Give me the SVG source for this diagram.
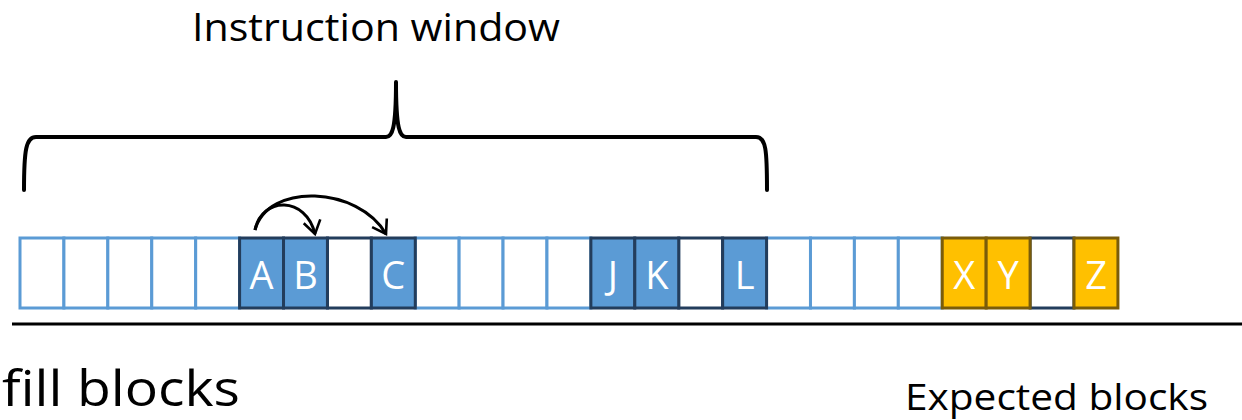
<svg xmlns="http://www.w3.org/2000/svg" width="1242" height="420" viewBox="0 0 1242 420">
  <style>
    .label { font-family: "Open Sans", "Liberation Sans", sans-serif; fill: #000; }
    .cell { fill: #fff; stroke: #5B9BD5; stroke-width: 3; }
    .gap { fill: #fff; stroke: #233D5C; stroke-width: 3; }
    .blue { fill: #5B9BD5; stroke: #233D5C; stroke-width: 3; }
    .gold { fill: #FFC000; stroke: #7A5C0A; stroke-width: 3; }
    .letter { font-family: "Open Sans", "Liberation Sans", sans-serif; font-size: 38px; fill: #fff; text-anchor: middle; }
    .ink { fill: none; stroke: #000; stroke-width: 4; stroke-linecap: round; stroke-linejoin: round; }
    .dep { fill: none; stroke: #000; stroke-width: 3; }
  </style>
  <defs>
    <marker id="vhead" viewBox="0 0 20 20" refX="17" refY="10" markerWidth="20" markerHeight="20" markerUnits="userSpaceOnUse" orient="auto">
      <path d="M4,1.5 L17,10 L4,18.5" fill="none" stroke="#000" stroke-width="2.6" stroke-linejoin="miter"/>
    </marker>
  </defs>

  <!-- caption above the bracket -->
  <text id="title" class="label" x="192" y="41" font-size="39" textLength="368" lengthAdjust="spacingAndGlyphs">Instruction window</text>

  <!-- curly bracket spanning the window -->
  <path id="bracket" class="ink" d="M24,190 C24,150 26,137 36,137 L386,137 C392,137 396,130 396,82 C396,130 400,137 406,137 L756,137 C766,137 767,150 767,190"/>

  <!-- light cells of the buffer -->
  <g id="buffer">
    <rect class="cell" x="20" y="238" width="43.92" height="70"/>
    <rect class="cell" x="63.92" y="238" width="43.92" height="70"/>
    <rect class="cell" x="107.84" y="238" width="43.92" height="70"/>
    <rect class="cell" x="151.76" y="238" width="43.92" height="70"/>
    <rect class="cell" x="195.68" y="238" width="43.92" height="70"/>
    <rect class="cell" x="415.2" y="238" width="43.92" height="70"/>
    <rect class="cell" x="459.12" y="238" width="43.92" height="70"/>
    <rect class="cell" x="503.04" y="238" width="43.92" height="70"/>
    <rect class="cell" x="546.96" y="238" width="43.92" height="70"/>
    <rect class="cell" x="766.56" y="238" width="43.92" height="70"/>
    <rect class="cell" x="810.48" y="238" width="43.92" height="70"/>
    <rect class="cell" x="854.4" y="238" width="43.92" height="70"/>
    <rect class="cell" x="898.32" y="238" width="43.92" height="70"/>
  </g>

  <!-- empty slots inside groups -->
  <g id="slots">
    <rect class="gap" x="327.44" y="238" width="43.92" height="70"/>
    <rect class="gap" x="678.72" y="238" width="43.92" height="70"/>
    <rect class="gap" x="1030.08" y="238" width="43.92" height="70"/>
  </g>

  <g id="node-A"><rect class="blue" x="239.6" y="238" width="43.92" height="70"/><text class="letter" x="261.6" y="289">A</text></g>
  <g id="node-B"><rect class="blue" x="283.52" y="238" width="43.92" height="70"/><text class="letter" x="305.5" y="289">B</text></g>
  <g id="node-C"><rect class="blue" x="371.36" y="238" width="43.92" height="70"/><text class="letter" x="393.3" y="289">C</text></g>
  <g id="node-J"><rect class="blue" x="590.88" y="238" width="43.92" height="70"/><text class="letter" x="612.8" y="289">J</text></g>
  <g id="node-K"><rect class="blue" x="634.8" y="238" width="43.92" height="70"/><text class="letter" x="656.8" y="289">K</text></g>
  <g id="node-L"><rect class="blue" x="722.64" y="238" width="43.92" height="70"/><text class="letter" x="744.6" y="289">L</text></g>
  <g id="node-X"><rect class="gold" x="942.24" y="238" width="43.92" height="70"/><text class="letter" x="964.2" y="289">X</text></g>
  <g id="node-Y"><rect class="gold" x="986.16" y="238" width="43.92" height="70"/><text class="letter" x="1008.1" y="289">Y</text></g>
  <g id="node-Z"><rect class="gold" x="1074" y="238" width="43.92" height="70"/><text class="letter" x="1096" y="289">Z</text></g>

  <!-- dependency arrows from A -->
  <g id="connectors">
    <path class="dep" d="M255,230 C262,196 306,196 315,234" marker-end="url(#vhead)"/>
    <path class="dep" d="M255,230 C268,182 358,186 386,234" marker-end="url(#vhead)"/>
  </g>

  <!-- ground line -->
  <line id="baseline" x1="12" y1="324" x2="1242" y2="324" stroke="#000" stroke-width="3"/>

  <text id="fill-label" class="label" x="2" y="406" font-size="50" textLength="238" lengthAdjust="spacingAndGlyphs">fill blocks</text>
  <text id="expected-label" class="label" x="905" y="410" font-size="37" textLength="303" lengthAdjust="spacingAndGlyphs">Expected blocks</text>
</svg>
